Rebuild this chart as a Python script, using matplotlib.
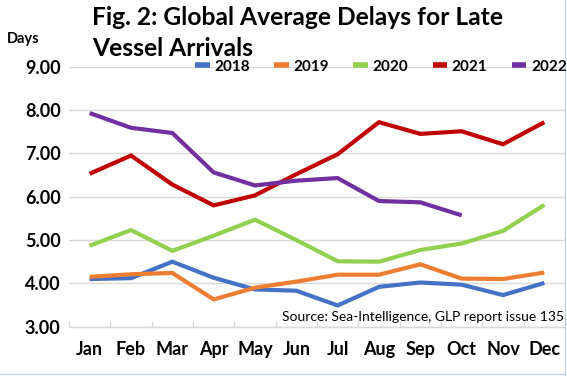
import matplotlib
matplotlib.use("Agg")
import matplotlib.pyplot as plt
from matplotlib.lines import Line2D
import numpy as np

months = ["Jan", "Feb", "Mar", "Apr", "May", "Jun", "Jul", "Aug", "Sep", "Oct", "Nov", "Dec"]
years = ["2018", "2019", "2020", "2021", "2022"]
d2018 = [4.10, 4.12, 4.50, 4.13, 3.86, 3.83, 3.49, 3.92, 4.02, 3.97, 3.73, 4.01]
d2019 = [4.15, 4.21, 4.24, 3.63, 3.90, 4.04, 4.20, 4.20, 4.44, 4.11, 4.10, 4.25]
d2020 = [4.87, 5.23, 4.75, 5.10, 5.47, 5.00, 4.51, 4.50, 4.77, 4.92, 5.21, 5.81]
d2021 = [6.53, 6.95, 6.28, 5.80, 6.03, 6.52, 6.98, 7.72, 7.45, 7.51, 7.21, 7.72]
d2022 = [7.93, 7.59, 7.47, 6.56, 6.26, 6.37, 6.43, 5.90, 5.87, 5.57]
colors = ["#4472C4", "#ED7D31", "#92D050", "#C00000", "#7030A0"]
yticks = [3.0, 4.0, 5.0, 6.0, 7.0, 8.0, 9.0]

plt.rcParams['font.family'] = ['Lato', 'DejaVu Sans']
W, H = 567, 376
fig = plt.figure(figsize=(W / 100, H / 100), dpi=100)
ax = fig.add_axes([69 / W, 1 - 326.7 / H, 496 / W, 260 / H])

series = [d2018, d2019, d2020, d2021, d2022]
x = np.arange(len(months))
for s, c, lab in zip(series, colors, years):
    ax.plot(x[:len(s)], s, color=c, lw=3.0, label=lab, solid_capstyle='butt', solid_joinstyle='miter')

ax.set_xlim(-0.5, 11.5)
ax.set_ylim(3, 9)
ax.set_yticks(yticks)
ax.set_yticklabels([f"{v:.2f}" for v in yticks], fontsize=13, fontweight='bold')
ax.set_xticks(x)
ax.set_xticklabels(months, fontsize=13, fontweight='bold')
ax.tick_params(axis='x', length=0, pad=10)
ax.tick_params(axis='y', length=0, pad=6)
ax.set_xticks(np.arange(-0.5, 12, 1), minor=True)
ax.tick_params(axis='x', which='minor', length=4, color='#d9d9d9', direction='in', width=1)
ax.grid(axis='y', color='#d9d9d9', lw=1)
ax.set_axisbelow(True)
for sp in ['top', 'right', 'left']:
    ax.spines[sp].set_visible(False)
ax.spines['bottom'].set_color('#d9d9d9')
ax.spines['bottom'].set_linewidth(1)

handles, labels = ax.get_legend_handles_labels()
handles = [Line2D([], [], color=c, lw=4.0, solid_capstyle='butt') for c in colors]
leg = fig.legend(handles, labels, loc='center left', bbox_to_anchor=(195 / W, 1 - 66.7 / H),
                 ncol=5, frameon=False, prop={'size': 11, 'weight': 'bold'},
                 handlelength=0.95, handletextpad=0.3, columnspacing=1.6,
                 borderaxespad=0, borderpad=0)

ax.text(0.9975, (326.7 - 317) / 260, "Source: Sea-Intelligence, GLP report issue 135",
        transform=ax.transAxes, ha='right', va='center', fontsize=10)

fig.text(92 / W, 1 - 25 / H, "Fig. 2: Global Average Delays for Late",
         ha='left', va='baseline', fontsize=17.7, fontweight='bold')
fig.text(92 / W, 1 - 56 / H, "Vessel Arrivals",
         ha='left', va='baseline', fontsize=17.7, fontweight='bold')
fig.text(7 / W, 1 - 39 / H, "Days", ha='left', va='center', fontsize=10.5, fontweight='bold')

fig.add_artist(Line2D([565 / W, 565 / W], [0, 1], transform=fig.transFigure, color='#c5d3ea', lw=1))
fig.add_artist(Line2D([0, 565 / W], [2 / H, 2 / H], transform=fig.transFigure, color='#c5d3ea', lw=1))

fig.savefig("out.png", dpi=100)
